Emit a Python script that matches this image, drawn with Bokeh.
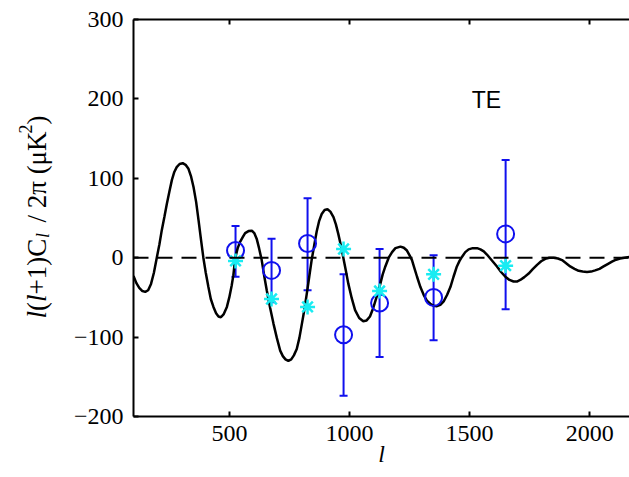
import math
from bokeh.plotting import figure
from bokeh.layouts import row
from bokeh.models import (ColumnDataSource, Whisker, TeeHead, Span, Label,
                          LinearAxis, FixedTicker, Range1d)
from bokeh.core.properties import value
from bokeh.embed import file_html
from bokeh.resources import INLINE

# ---- data ----
ell_theory = [100, 112, 124, 137, 149, 161, 173, 185, 197, 208, 218, 229, 239,
              250, 260, 270, 280, 292, 305, 317, 329, 340, 350, 361, 371, 381,
              391, 401, 412, 422, 433, 444, 454, 464, 476, 489, 499, 509, 516,
              524, 534, 544, 555, 565, 579, 593, 603, 613, 623, 634, 644, 655,
              669, 683, 697, 711, 722, 733, 745, 757, 768, 780, 791, 801, 812,
              822, 832, 842, 853, 863, 873, 884, 896, 908, 920, 933, 943, 953,
              964, 974, 985, 995, 1009, 1023, 1040, 1057, 1071, 1085, 1099,
              1113, 1128, 1138, 1149, 1163, 1177, 1191, 1212, 1226, 1239, 1250,
              1260, 1270, 1281, 1295, 1309, 1322, 1336, 1350, 1364, 1378, 1392,
              1406, 1420, 1433, 1447, 1458, 1468, 1482, 1496, 1513, 1531, 1545,
              1559, 1572, 1586, 1600, 1614, 1631, 1649, 1666, 1683, 1697, 1711,
              1728, 1746, 1763, 1781, 1798, 1815, 1832, 1850, 1868, 1885, 1902,
              1919, 1937, 1954, 1971, 1989, 2006, 2023, 2041, 2058, 2075, 2093,
              2110, 2127, 2145, 2166]
te_theory = [-23, -32, -38, -42, -43, -41, -33, -19, 0, 17, 35, 52, 68,
             84, 98, 108, 114, 118, 119, 117, 112, 102, 89, 70, 47, 23,
             0, -19, -37, -52, -62, -70, -74, -75, -71, -62, -50, -35, -22,
             0, 12, 20, 26, 31, 33.5, 34, 31, 24, 12, -3, -22, -41,
             -63, -83, -101, -117, -124, -128, -130, -128, -123, -115, -101, -84, -65,
             -45, -24, -3, 16, 33, 46, 55, 60, 61, 58, 51, 42, 30,
             15, 0, -17, -33, -51, -66, -76, -80, -79, -74, -63,
             -49, -33, -21, -11, 0, 7, 12, 14, 12.5, 9, 3,
             -3, -13, -24, -37, -47, -54, -58, -60.5, -61, -59.5, -55,
             -47, -37, -24, -11, -4, 1, 7, 10.5, 12, 12, 10.5,
             8, 4, -1, -6, -11, -18, -24, -28, -30, -30, -28,
             -24.5, -20, -14.5, -9, -4.5, -1.5, 0, 0, -1, -3, -7,
             -11, -14, -16.5, -17.5, -18, -17.5, -16, -14, -11, -8, -5,
             -2.5, -1, 0, 1]

ell_bins = [525, 675, 825, 975, 1125, 1350, 1650]
te_measured = [9, -16, 18, -97, -57, -50, 30]
te_err_low = [-24, -56, -41, -174, -125, -104, -65]
te_err_high = [40, 24, 75, -21, 11, 3, 123]
te_other = [-4, -52, -62, 11, -42, -21, -10]

x_ticks = [500, 1000, 1500, 2000]
y_ticks = [-200, -100, 0, 100, 200, 300]
y_tick_text = {-200: "\u2212200", -100: "\u2212100", 0: "0", 100: "100",
               200: "200", 300: "300"}

BLUE = "#1010ee"
CYAN = "#19ecf2"
SERIF = "Liberation Serif"

LEFT_W = 60
MAIN_W = 629 - LEFT_W
H = 477
F_TOP, F_BOT = 19, 416

# ---------------- main plot ----------------
p = figure(width=MAIN_W, height=H, x_range=Range1d(100, 2166),
           y_range=Range1d(-200, 300), output_backend="svg",
           toolbar_location=None, min_border_left=133 - LEFT_W,
           min_border_right=0, min_border_top=F_TOP, min_border_bottom=H - F_BOT)
p.outline_line_color = None
p.xgrid.grid_line_color = None
p.ygrid.grid_line_color = None
p.background_fill_color = "white"
p.border_fill_color = "white"

for ax in p.xaxis:
    ax.ticker = FixedTicker(ticks=x_ticks)
for ax in p.yaxis:
    ax.ticker = FixedTicker(ticks=y_ticks)
    ax.major_label_overrides = y_tick_text

for ax in list(p.xaxis) + list(p.yaxis):
    ax.axis_line_width = 2
    ax.axis_line_color = "black"
    ax.major_tick_in = 5
    ax.major_tick_out = 0
    ax.major_tick_line_width = 2
    ax.minor_tick_line_color = None
    ax.major_label_text_font = SERIF
    ax.major_label_text_font_size = "24px"
    ax.major_label_text_color = "black"
p.xaxis.major_label_standoff = 9
p.yaxis.major_label_standoff = 10

p.xaxis.axis_label = "l"
p.xaxis.axis_label_text_font = SERIF
p.xaxis.axis_label_text_font_size = "24px"
p.xaxis.axis_label_text_font_style = "italic"
p.xaxis.axis_label_text_color = "black"
p.xaxis.axis_label_standoff = -3

top = LinearAxis(ticker=FixedTicker(ticks=x_ticks), axis_line_width=2,
                 major_tick_in=5, major_tick_out=0, major_tick_line_width=2,
                 minor_tick_line_color=None, major_label_text_font_size="1px",
                 major_label_standoff=0,
                 major_label_overrides={t: "" for t in x_ticks})
p.add_layout(top, "above")

# zero reference line
p.add_layout(Span(location=0, dimension="width", line_color="black",
                  line_width=2, line_dash="15 9"))

# theory curve
p.line(ell_theory, te_theory, line_color="black", line_width=2.5)

src = ColumnDataSource(dict(x=ell_bins, y=te_measured, lo=te_err_low,
                            hi=te_err_high, y2=te_other))
p.add_layout(Whisker(base="x", upper="hi", lower="lo", source=src,
                     dimension="height", line_color=BLUE, line_width=2,
                     upper_head=TeeHead(size=8, line_color=BLUE, line_width=2),
                     lower_head=TeeHead(size=8, line_color=BLUE, line_width=2)))
p.scatter("x", "y", source=src, marker="circle", size=17, fill_color=None,
          line_color=BLUE, line_width=2)
p.scatter("x", "y2", source=src, marker="asterisk", size=15,
          line_color=CYAN, line_width=2.5)

p.add_layout(Label(x=1570, y=198, text="TE", text_font="Liberation Sans",
                   text_font_size="23px", text_align="center",
                   text_baseline="middle", text_color="black"))

# ---------------- y-axis title strip (frame aligned with main frame) ----
ys = figure(width=LEFT_W, height=H, x_range=Range1d(0, LEFT_W),
            y_range=Range1d(F_BOT, F_TOP), output_backend="svg",
            toolbar_location=None, title=None, x_axis_location=None,
            y_axis_location=None, min_border_left=0, min_border_right=0,
            min_border_top=F_TOP, min_border_bottom=H - F_BOT)
ys.outline_line_color = None
ys.grid.visible = False
ys.background_fill_color = "white"
ys.border_fill_color = "white"

y_title_parts = ["l", "(", "l", "+1)C", "l", "/ 2\u03c0 (\u03bcK", "2", ")"]
y_title_pos = [318, 310.5, 301.5, 294, 237.5, 222, 133, 124]
y_title_base = [36, 36, 36, 36, 42, 36, 25, 36]
y_title_size = ["27px", "27px", "27px", "27px", "18px", "27px", "18px", "27px"]
y_title_style = ["italic", "normal", "italic", "normal", "italic", "normal",
                 "normal", "normal"]
for t, cy, bx, sz, st in zip(y_title_parts, y_title_pos, y_title_base,
                             y_title_size, y_title_style):
    ys.text(x=[bx], y=[cy], text=[t], angle=math.pi / 2,
            text_font=value(SERIF), text_font_size=value(sz),
            text_font_style=st, text_align="left",
            text_baseline="alphabetic", text_color="black")

layout = row(ys, p, spacing=0)
open("out.html", "w").write(file_html(layout, INLINE))
